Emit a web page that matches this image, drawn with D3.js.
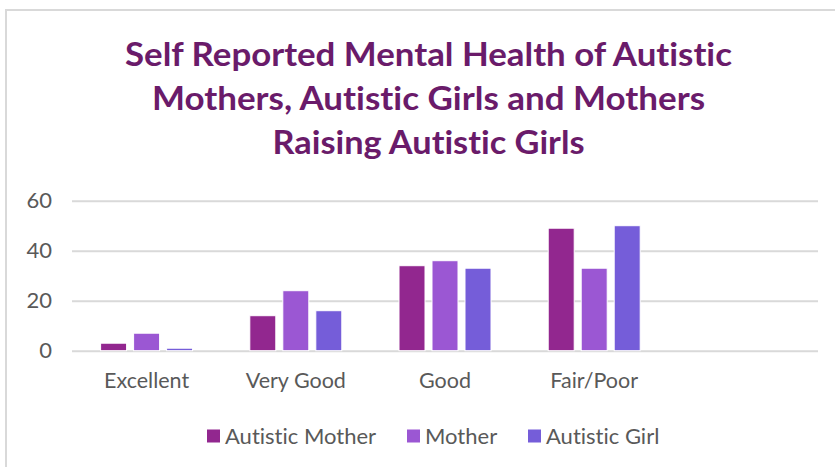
<!DOCTYPE html>
<html>
<head>
<meta charset="utf-8">
<script src="https://cdn.jsdelivr.net/npm/d3@7"></script>
<style>
  body { margin: 0; background: #fff; }
  svg { display: block; font-family: Lato, "Open Sans", sans-serif; font-variant-ligatures: none; }
</style>
</head>
<body>
<div id="chart"></div>
<script>
// data
const categories = ["Excellent", "Very Good", "Good", "Fair/Poor", ""];
const seriesNames = ["Autistic Mother", "Mother", "Autistic Girl"];
const autisticMother = [3, 14, 34, 49];
const mother = [7, 24, 36, 33];
const autisticGirl = [1, 16, 33, 50];
const yTicks = [0, 20, 40, 60];
const titleLines = [
    "Self Reported Mental Health of Autistic",
    "Mothers, Autistic Girls and Mothers",
    "Raising Autistic Girls"
];

const seriesValues = [autisticMother, mother, autisticGirl];
const colors = ["#92278F", "#9B57D3", "#755DD9"];
const textColor = "#595959";
const gridColor = "#d9d9d9";

const width = 835, height = 467;
const margin = { top: 200.7, right: 17, bottom: 116.3, left: 72 };
const innerWidth = width - margin.left - margin.right;
const innerHeight = height - margin.top - margin.bottom;

const svg = d3.select("#chart")
    .append("svg")
    .attr("width", width)
    .attr("height", height);

// chart area border (top + left visible in the crop)
svg.append("path")
    .attr("d", `M6,${height} V10 H${width}`)
    .attr("fill", "none")
    .attr("stroke", gridColor)
    .attr("stroke-width", 2);

// title, squeezed to the widths of the original narrow font
const titleWidths = [607, 553, 312];
svg.append("g")
    .selectAll("text")
    .data(titleLines)
    .join("text")
        .attr("x", 428.5)
        .attr("y", (d, i) => 65.5 + i * 44.3)
        .attr("text-anchor", "middle")
        .attr("fill", "#6A1B6A")
        .attr("font-weight", "bold")
        .attr("font-size", 33)
        .attr("textLength", (d, i) => titleWidths[i])
        .attr("lengthAdjust", "spacingAndGlyphs")
        .text(d => d);

const innerChart = svg.append("g")
    .attr("transform", `translate(${margin.left},${margin.top})`);

// scales
const xScale = d3.scaleBand()
    .domain(categories)
    .range([0, innerWidth]);

const groupWidth = 92;
const xSeries = d3.scaleBand()
    .domain(seriesNames)
    .range([0, groupWidth])
    .paddingInner(0.212);

const yScale = d3.scaleLinear()
    .domain([0, 60])
    .range([innerHeight, 0]);

// gridlines via the left axis
const leftAxis = d3.axisLeft(yScale)
    .tickValues(yTicks)
    .tickSize(-innerWidth)
    .tickPadding(20);

innerChart.append("g")
    .attr("class", "y-axis")
    .call(leftAxis)
    .call(g => g.select(".domain").remove())
    .call(g => g.selectAll("line").attr("stroke", gridColor).attr("stroke-width", 2))
    .call(g => g.selectAll("text")
        .attr("fill", textColor)
        .attr("font-size", 22)
        .attr("font-family", "Lato, 'Open Sans', sans-serif"));

// category labels via the bottom axis
const bottomAxis = d3.axisBottom(xScale).tickSize(0).tickPadding(22);
innerChart.append("g")
    .attr("class", "x-axis")
    .attr("transform", `translate(0,${innerHeight})`)
    .call(bottomAxis)
    .call(g => g.select(".domain").remove())
    .call(g => g.selectAll("text")
        .attr("fill", textColor)
        .attr("font-size", 21.5)
        .attr("font-family", "Lato, 'Open Sans', sans-serif"));

// bars
const rows = categories.slice(0, 4).map((c, i) => ({
    category: c,
    values: seriesNames.map((s, j) => ({ series: s, value: seriesValues[j][i], color: colors[j] }))
}));

const groups = innerChart.append("g")
    .selectAll("g")
    .data(rows)
    .join("g")
        .attr("transform", d => `translate(${xScale(d.category) + (xScale.bandwidth() - groupWidth) / 2},0)`);

groups.selectAll("rect")
    .data(d => d.values)
    .join("rect")
        .attr("x", d => xSeries(d.series))
        .attr("y", d => yScale(d.value))
        .attr("width", xSeries.bandwidth())
        .attr("height", d => innerHeight - yScale(d.value))
        .attr("fill", d => d.color)
        .attr("stroke", "#fff")
        .attr("stroke-width", 1);

// legend
const legendX = [207, 407, 528];
const legend = svg.append("g")
    .selectAll("g")
    .data(seriesNames)
    .join("g")
        .attr("transform", (d, i) => `translate(${legendX[i]},436)`);

legend.append("rect")
    .attr("x", 0)
    .attr("y", -6.5)
    .attr("width", 13)
    .attr("height", 13)
    .attr("fill", (d, i) => colors[i]);

legend.append("text")
    .attr("x", 18)
    .attr("y", 0)
    .attr("dy", "0.35em")
    .attr("fill", textColor)
    .attr("font-size", 22)
    .text(d => d);
</script>
</body>
</html>
